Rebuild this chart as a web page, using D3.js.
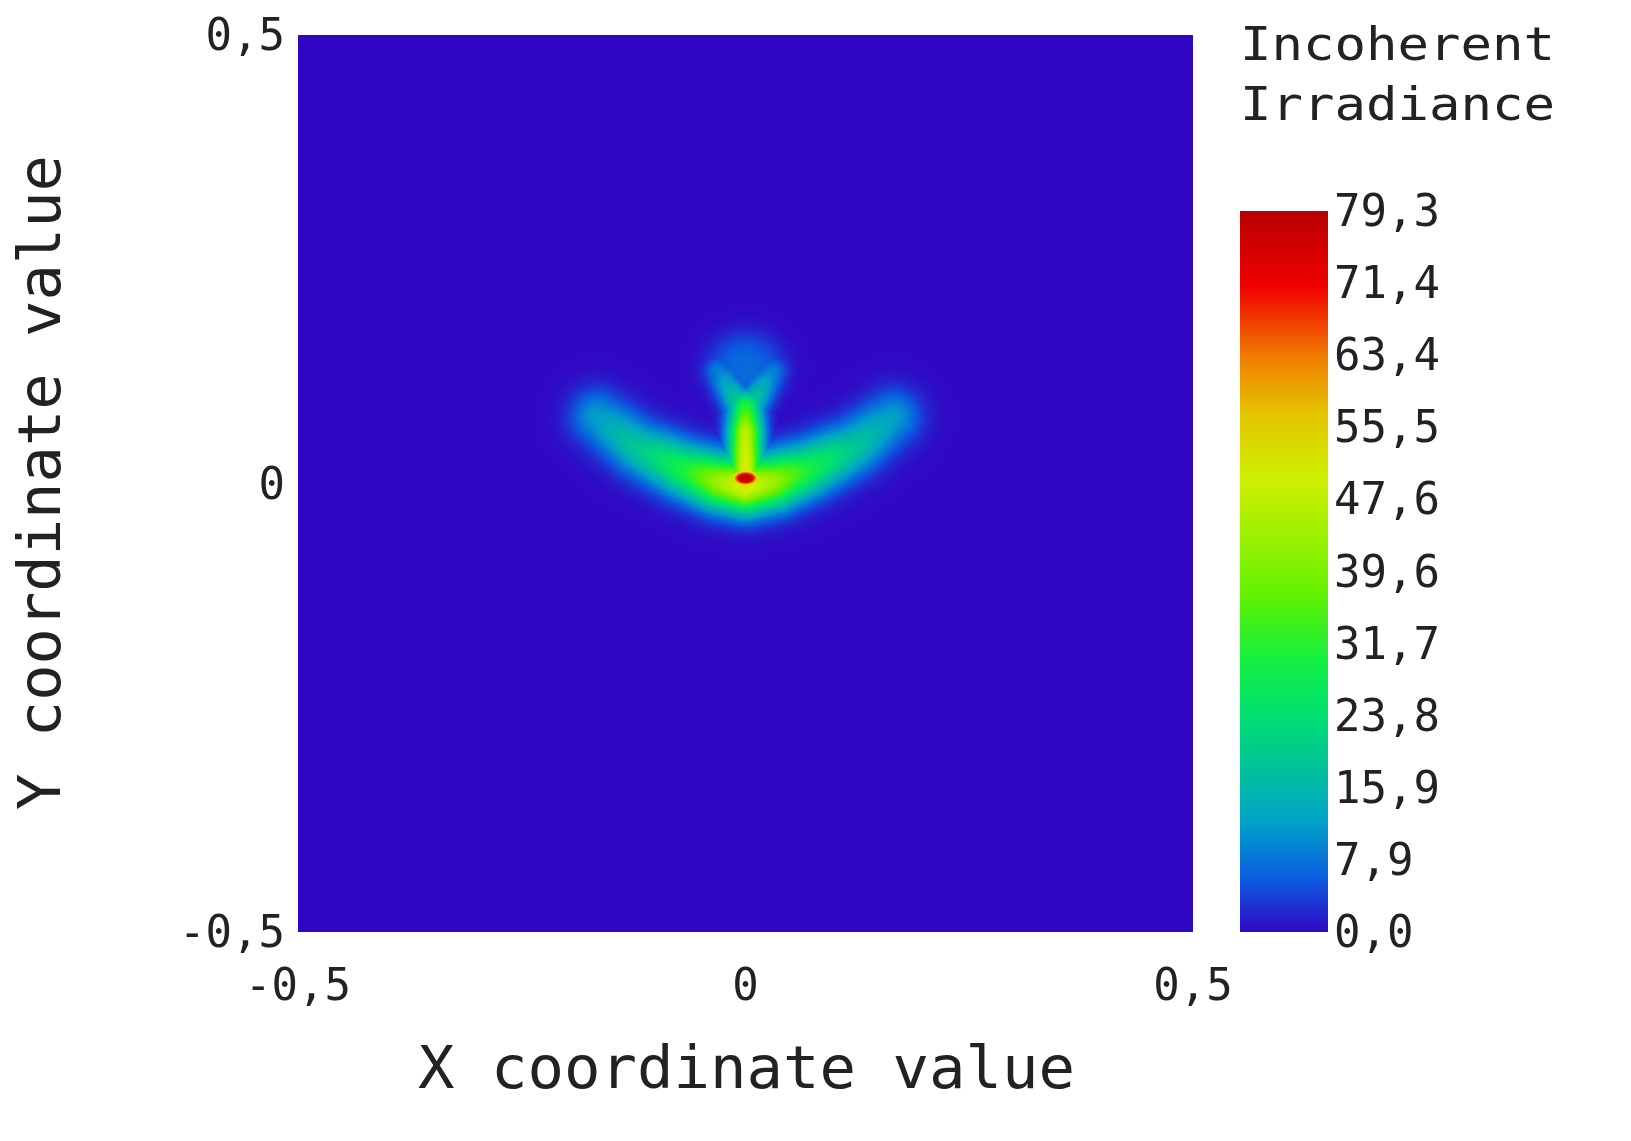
<!DOCTYPE html>
<html>
<head>
<meta charset="utf-8">
<script src="https://cdn.jsdelivr.net/npm/d3@7"></script>
<style>
body{margin:0;background:#fff;}
text{font-family:"DejaVu Sans Mono",monospace;fill:#222;}
</style>
</head>
<body>
<div id="chart" style="position:relative;width:1631px;height:1141px;"></div>
<script>
// irradiance features (data units)
var arcX = [-0.165, -0.120, -0.070, -0.030, 0.000, 0.030, 0.070, 0.120, 0.165];
var arcY = [0.074, 0.040, 0.016, 0.002, -0.003, 0.002, 0.016, 0.040, 0.074];
var arcV = [12, 19, 30, 44, 52, 44, 30, 19, 12];
var stemX = [0.000, 0.000, 0.000];
var stemY = [0.006, 0.058, 0.085];
var stemV = [52, 47, 32];
var forkLX = [0.000, -0.030];
var forkRX = [0.000, 0.030];
var forkY = [0.078, 0.125];
var forkV = [24, 9];
var blobs = [ // x, y, sx, sy, value
  [0.000, 0.006, 0.014, 0.008, 79.3],
  [0.000, 0.128, 0.034, 0.032, 7]
];
var barTicks = ["0,0","7,9","15,9","23,8","31,7","39,6","47,6","55,5","63,4","71,4","79,3"];
var barMax = 79.3;
var axisTicks = [-0.5, 0, 0.5];
var cStops = [0, 6, 12, 16, 24, 30, 37, 44, 50, 57, 63, 71, 79.3];
var cColors = ["#3008c4","#0a5ee0","#00a0c8","#00b8a8","#00e070","#14f040","#60f000","#a0f000","#d0f000","#e4c400","#f08000","#f00000","#b80000"];

var W = 1631, H = 1141;
var m = {left: 298, top: 35, right: 1193, bottom: 932};
var x = d3.scaleLinear().domain([-0.5, 0.5]).range([m.left, m.right]);
var y = d3.scaleLinear().domain([-0.5, 0.5]).range([m.bottom, m.top]);
var color = d3.scaleLinear().domain(cStops).range(cColors).clamp(true);

function lineField(px, py, xs, ys, vs, s) {
  var best = 0;
  for (var i = 0; i < xs.length - 1; i++) {
    var ax = xs[i], ay = ys[i], bx = xs[i+1], by = ys[i+1];
    var dx = bx - ax, dy = by - ay;
    var t = ((px-ax)*dx + (py-ay)*dy) / (dx*dx + dy*dy);
    t = Math.max(0, Math.min(1, t));
    var qx = ax + t*dx - px, qy = ay + t*dy - py;
    var v = (vs[i] + t*(vs[i+1]-vs[i])) * Math.exp(-(qx*qx+qy*qy)/(2*s*s));
    if (v > best) best = v;
  }
  return best;
}
function field(px, py) {
  var v = 0;
  v = Math.max(v, lineField(px, py, arcX, arcY, arcV, 0.021));
  v = Math.max(v, lineField(px, py, stemX, stemY, stemV, 0.013));
  v = Math.max(v, lineField(px, py, forkLX, forkY, forkV, 0.012));
  v = Math.max(v, lineField(px, py, forkRX, forkY, forkV, 0.012));
  blobs.forEach(function(b) {
    var dx = (px-b[0])/b[2], dy = (py-b[1])/b[3];
    v = Math.max(v, b[4]*Math.exp(-Math.pow(dx*dx+dy*dy, 1.5)/2));
  });
  return v;
}

var div = d3.select("#chart");
var cw = m.right - m.left, ch = m.bottom - m.top;
var canvas = div.append("canvas").attr("width", cw).attr("height", ch)
  .style("position","absolute").style("left", m.left+"px").style("top", m.top+"px");
var ctx = canvas.node().getContext("2d");
var img = ctx.createImageData(cw, ch);
for (var j = 0; j < ch; j++) {
  var py = y.invert(m.top + j + 0.5);
  for (var i = 0; i < cw; i++) {
    var c = d3.rgb(color(field(x.invert(m.left + i + 0.5), py)));
    var k = (j*cw + i)*4;
    img.data[k] = c.r; img.data[k+1] = c.g; img.data[k+2] = c.b; img.data[k+3] = 255;
  }
}
ctx.putImageData(img, 0, 0);

var svg = div.append("svg").attr("width", W).attr("height", H)
  .style("position","absolute").style("left",0).style("top",0);

var fmt = function(d){ return d === 0 ? "0" : String(d).replace(".", ","); };
svg.selectAll("text.yt").data(axisTicks).enter().append("text")
  .attr("x", 285).attr("y", function(d){ return y(d) + 15; })
  .attr("text-anchor","end").style("font-size","44px").text(fmt);
svg.selectAll("text.xt").data(axisTicks).enter().append("text")
  .attr("x", function(d){ return x(d); }).attr("y", 1000)
  .attr("text-anchor","middle").style("font-size","44px").text(fmt);

svg.append("text").attr("x", 418).attr("y", 1088)
  .attr("textLength", 657).attr("lengthAdjust","spacingAndGlyphs")
  .style("font-size","58px").text("X coordinate value");
svg.append("text").attr("transform","translate(60,810) rotate(-90)")
  .attr("textLength", 655).attr("lengthAdjust","spacingAndGlyphs")
  .style("font-size","58px").text("Y coordinate value");

svg.append("text").attr("x", 1240).attr("y", 60).attr("textLength", 315)
  .attr("lengthAdjust","spacingAndGlyphs").style("font-size","46px").text("Incoherent");
svg.append("text").attr("x", 1240).attr("y", 120).attr("textLength", 315)
  .attr("lengthAdjust","spacingAndGlyphs").style("font-size","46px").text("Irradiance");

// colour bar
var bar = {x: 1240, w: 88, top: 211, bottom: 932};
var grad = svg.append("defs").append("linearGradient").attr("id","cb")
  .attr("x1",0).attr("y1",1).attr("x2",0).attr("y2",0);
grad.selectAll("stop").data(cStops).enter().append("stop")
  .attr("offset", function(d){ return d/barMax; })
  .attr("stop-color", function(d, i){ return cColors[i]; });
svg.append("rect").attr("x", bar.x).attr("y", bar.top).attr("width", bar.w)
  .attr("height", bar.bottom - bar.top).attr("fill","url(#cb)");
svg.selectAll("text.bt").data(barTicks).enter().append("text")
  .attr("x", 1334).attr("y", function(d, i){ return bar.bottom - i*(bar.bottom-bar.top)/10 + 15; })
  .style("font-size","44px").text(function(d){ return d; });
</script>
</body>
</html>
